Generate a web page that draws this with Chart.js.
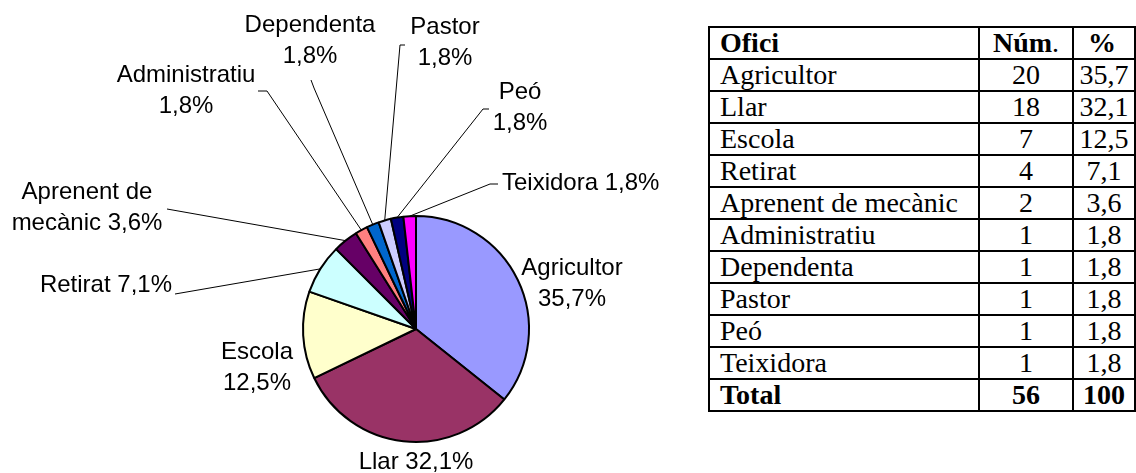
<!DOCTYPE html>
<html lang="ca">
<head>
<meta charset="utf-8">
<title>Ofici</title>
<script src="https://cdn.jsdelivr.net/npm/chart.js@4.4.1/dist/chart.umd.min.js"></script>
<style>
  html, body { margin: 0; padding: 0; background: #fff; }
  body { width: 1136px; height: 473px; position: relative; overflow: hidden; }
  #grafOfici { position: absolute; left: 0; top: 0; }
  #taulaOfici { position: absolute; left: 708px; top: 26px; width: 426px; table-layout: fixed; border-collapse: collapse; font-family: "Liberation Serif", "Times New Roman", serif; font-size: 28px; color: #000; }
  #taulaOfici td { border: 2px solid #000; padding: 0 10px; height: 30px; line-height: 30px; white-space: nowrap; overflow: visible; }
  #taulaOfici td.c2, #taulaOfici td.c3 { text-align: center; padding: 0 2px; }
  #taulaOfici tr.cap td, #taulaOfici tr.total td { font-weight: bold; }
  #taulaOfici tr.cap td.c3 { text-align: left; padding-left: 14px; }
  #taulaOfici span.fi { font-weight: normal; }
</style>
</head>
<body>
<canvas id="grafOfici" width="700" height="473"></canvas>
<table id="taulaOfici">
  <colgroup><col style="width:270px"><col style="width:94px"><col style="width:62px"></colgroup>
  <tbody id="cosTaula"></tbody>
</table>
<script>
const oficis = ["Agricultor", "Llar", "Escola", "Retirat", "Aprenent de mecànic", "Administratiu", "Dependenta", "Pastor", "Peó", "Teixidora"];
const nombres = [20, 18, 7, 4, 2, 1, 1, 1, 1, 1];
const percents = ["35,7", "32,1", "12,5", "7,1", "3,6", "1,8", "1,8", "1,8", "1,8", "1,8"];
const totalNombre = 56;
const totalPercent = 100;
const colors = ["#9999FF", "#993366", "#FFFFCC", "#CCFFFF", "#660066", "#FF8080", "#0066CC", "#CCCCFF", "#000080", "#FF00FF"];

// text de les etiquetes del pastis (una entrada per linia)
const textEtiquetes = [
    ["Agricultor", "35,7%"],
    ["Llar 32,1%"],
    ["Escola", "12,5%"],
    ["Retirat 7,1%"],
    ["Aprenent de", "mecànic 3,6%"],
    ["Administratiu", "1,8%"],
    ["Dependenta", "1,8%"],
    ["Pastor", "1,8%"],
    ["Peó", "1,8%"],
    ["Teixidora 1,8%"]
];

// on va cada etiqueta i el tros de linia guia abans d'anar cap al pastis
const posEtiquetes = [
    { x: 572, y: 268, align: "center" },
    { x: 416, y: 462, align: "center" },
    { x: 257, y: 352, align: "center" },
    { x: 172, y: 285, align: "right", guia: [[175, 294]] },
    { x: 87, y: 192, align: "center", guia: [[167, 209]] },
    { x: 186, y: 75, align: "center", guia: [[258, 91], [267, 91]] },
    { x: 310, y: 25, align: "center", guia: [[311, 80], [314, 88]] },
    { x: 445, y: 27, align: "center", guia: [[405, 45], [400, 45]] },
    { x: 520, y: 92, align: "center", guia: [[489, 109], [483, 109]] },
    { x: 502, y: 183, align: "left", guia: [[498, 184], [490, 184]] }
];

// taula
(function() {
    const cos = document.getElementById("cosTaula");
    let html = "<tr class='cap'><td class='c1'>Ofici</td><td class='c2'>Núm<span class='fi'>.</span></td><td class='c3'>%</td></tr>";
    for (let i = 0; i < oficis.length; i++) {
        html += "<tr><td class='c1'>" + oficis[i] + "</td><td class='c2'>" + nombres[i] + "</td><td class='c3'>" + percents[i] + "</td></tr>";
    }
    html += "<tr class='total'><td class='c1'>Total</td><td class='c2'>" + totalNombre + "</td><td class='c3'>" + totalPercent + "</td></tr>";
    cos.innerHTML = html;
})();

const etiquetesPlugin = {
    id: "etiquetesPastis",
    afterDraw: function(chart) {
        const ctx = chart.ctx;
        const arcs = chart.getDatasetMeta(0).data;
        ctx.save();
        ctx.font = "24px 'Liberation Sans', Arial, sans-serif";
        ctx.fillStyle = "#000";
        ctx.strokeStyle = "#000";
        ctx.lineWidth = 1;
        ctx.textBaseline = "middle";
        for (let i = 0; i < arcs.length; i++) {
            const p = posEtiquetes[i];
            const a = arcs[i].getProps(["x", "y", "startAngle", "endAngle", "outerRadius"], true);
            if (p.guia) {
                const mig = (a.startAngle + a.endAngle) / 2;
                ctx.beginPath();
                ctx.moveTo(p.guia[0][0], p.guia[0][1]);
                for (let k = 1; k < p.guia.length; k++) ctx.lineTo(p.guia[k][0], p.guia[k][1]);
                ctx.lineTo(a.x + Math.cos(mig) * a.outerRadius, a.y + Math.sin(mig) * a.outerRadius);
                ctx.stroke();
            }
            ctx.textAlign = p.align;
            const linies = textEtiquetes[i];
            for (let j = 0; j < linies.length; j++) {
                ctx.fillText(linies[j], p.x, p.y + j * 31);
            }
        }
        ctx.restore();
    }
};

new Chart(document.getElementById("grafOfici").getContext("2d"), {
    type: "pie",
    data: {
        labels: oficis,
        datasets: [{ data: nombres, backgroundColor: colors, borderColor: "#000", borderWidth: 2 }]
    },
    options: {
        responsive: false,
        animation: false,
        layout: { padding: { left: 302, right: 170, top: 214, bottom: 29 } },
        plugins: { legend: { display: false }, tooltip: { enabled: false } }
    },
    plugins: [etiquetesPlugin]
});
</script>
</body>
</html>
